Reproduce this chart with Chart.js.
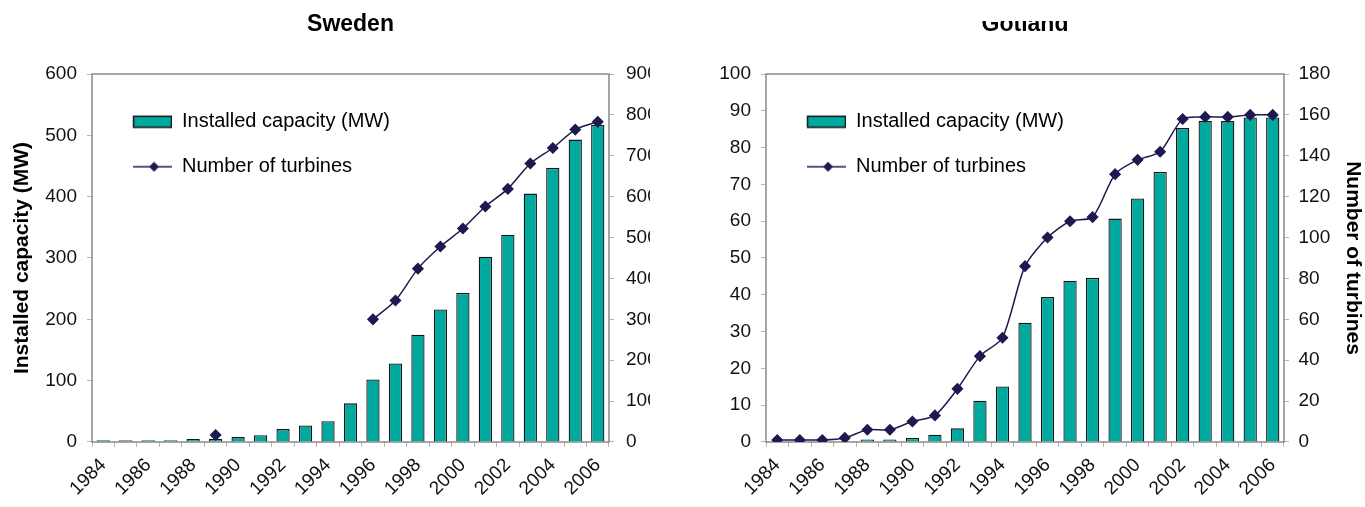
<!DOCTYPE html>
<html><head><meta charset="utf-8">
<script src="https://cdn.jsdelivr.net/npm/chart.js"></script>
<style>
html,body{margin:0;padding:0;background:#fff;}
body{width:1365px;height:507px;position:relative;overflow:hidden;}
#wrapS{position:absolute;left:0;top:0;width:650px;height:507px;overflow:hidden;}
#wrapG{position:absolute;left:700px;top:21px;width:665px;height:486px;overflow:hidden;}
#cS{position:absolute;left:0;top:0;}
#cG{position:absolute;left:0;top:-21px;}
</style></head><body>
<div id="wrapS"><canvas id="cS" width="700" height="507"></canvas></div>
<div id="wrapG"><canvas id="cG" width="665" height="507"></canvas></div>
<script>
const years = ['1984','1985','1986','1987','1988','1989','1990','1991','1992','1993','1994','1995','1996','1997','1998','1999','2000','2001','2002','2003','2004','2005','2006'];
const swedenCapacity = [3,3,3,3,5,5,8,11,21,27,34,63,102,128,175,216,243,302,338,405,447,493,517];
const swedenTurbines = [null,null,null,null,null,17,null,null,null,null,null,null,300,346,424,478,522,576,619,681,719,764,783];
const gotlandCapacity = [0,0,0,0,0.7,0.7,1.1,2.0,3.7,11.2,15.1,32.4,39.4,43.8,44.6,60.7,66.2,73.4,85.3,87.2,87.2,88.2,88.2];
const gotlandTurbines = [1,1,1,2,6,6,10,13,26,42,51,86,100,108,110,131,138,142,158,159,159,160,160];
const capLabel = 'Installed capacity (MW)';
const turbLabel = 'Number of turbines';

const TEAL = '#00A99D';
const NAVY = '#1e1a50';
const AXIS = '#8a8a8a';
const TICK = '#b5b5b5';

Chart.defaults.font.family = '"Liberation Sans", Arial, sans-serif';
Chart.defaults.color = '#000';

function barSymbol(){
  const c = document.createElement('canvas'); c.width = 55; c.height = 14;
  const x = c.getContext('2d');
  x.fillStyle = TEAL; x.fillRect(16.5,1.5,38,11);
  x.strokeStyle = '#111'; x.lineWidth = 1.5; x.strokeRect(16.5,1.5,38,11);
  return c;
}
function lineSymbol(){
  const c = document.createElement('canvas'); c.width = 55; c.height = 14;
  const x = c.getContext('2d');
  x.strokeStyle = NAVY; x.lineWidth = 1.5;
  x.beginPath(); x.moveTo(16,7); x.lineTo(55,7); x.stroke();
  x.fillStyle = NAVY; x.beginPath();
  x.moveTo(37,2); x.lineTo(42,7); x.lineTo(37,12); x.lineTo(32,7); x.closePath(); x.fill();
  return c;
}
const barImg = barSymbol();
const lineImg = lineSymbol();

const framePlugin = {
  id: 'frame',
  beforeDatasetsDraw(chart){
    const {ctx, chartArea:a} = chart;
    ctx.save(); ctx.strokeStyle = AXIS; ctx.lineWidth = 1.5;
    ctx.strokeRect(a.left, a.top, a.right - a.left, a.bottom - a.top);
    ctx.restore();
  }
};

function makeChart(canvas, cfg){
  return new Chart(canvas, {
    type: 'bar',
    data: {
      labels: years,
      datasets: [
        {type:'line', label: turbLabel, data: cfg.turbines, yAxisID:'y1',
         borderColor: NAVY, borderWidth: 1.5, pointStyle:'rectRot', pointRadius: 5,
         pointBackgroundColor: NAVY, pointBorderColor: NAVY, tension: 0.25, spanGaps:false, fill:false},
        {type:'bar', label: capLabel, data: cfg.capacity, yAxisID:'y',
         backgroundColor: TEAL, borderColor: '#151515', borderWidth: 1.3,
         barPercentage: 0.59, categoryPercentage: 1}
      ]
    },
    options: {
      responsive: false, animation: false,
      layout: {padding: cfg.padding},
      plugins: {
        tooltip: {enabled:false},
        title: {display:true, text: cfg.title, fullSize:false, color:'#000',
                font:{size:23, weight:'bold'}, padding:{top:11.2, bottom:35.2}},
        legend: {
          position: 'chartArea', align: 'start',
          title: {display:true, text:' ', font:{size:1}, padding:{top:85.5, bottom:0}},
          labels: {
            usePointStyle: true, pointStyleWidth: 55, boxHeight: 12, padding: 25,
            font: {size:20}, color:'#000',
            generateLabels(chart){
              const items = Chart.defaults.plugins.legend.labels.generateLabels(chart);
              items.forEach(it => { it.pointStyle = chart.data.datasets[it.datasetIndex].type === 'bar' ? barImg : lineImg; });
              return items.sort((a,b) => b.datasetIndex - a.datasetIndex);
            }
          }
        }
      },
      scales: {
        x: {
          offset: true,
          grid: {display:true, drawOnChartArea:false, drawTicks:true, tickLength:5, color:TICK, offset:true},
          border: {display:false},
          ticks: {autoSkip:false, minRotation:45, maxRotation:45, padding:7, font:{size:19}, color:'#111',
                  callback: (v,i) => i % 2 === 0 ? years[i] : ''}
        },
        y: {
          position:'left', min:0, max: cfg.yMax,
          ticks: {stepSize: cfg.yStep, padding:10, font:{size:19}, color:'#111'},
          grid: {drawOnChartArea:false, tickLength:5, color:TICK},
          border: {display:false},
          title: cfg.yTitle ? {display:true, text: capLabel, color:'#000', font:{size:21, weight:'bold'}, padding:{top:6.4, bottom:0.7}} : {display:false}
        },
        y1: {
          position:'right', min:0, max: cfg.y1Max,
          ticks: {stepSize: cfg.y1Step, padding: cfg.y1Pad, font:{size:19}, color:'#111'},
          grid: {drawOnChartArea:false, tickLength:5, color:TICK},
          border: {display:false},
          title: cfg.y1Title ? {display:true, text: turbLabel, color:'#000', font:{size:21, weight:'bold'}, padding:{top:0.1, bottom:0}} : {display:false}
        }
      }
    },
    plugins: [framePlugin]
  });
}

makeChart(document.getElementById('cS'), {
  title:'Sweden', capacity: swedenCapacity, turbines: swedenTurbines,
  yMax:600, yStep:100, y1Max:900, y1Step:100, yTitle:true, y1Title:false, y1Pad:12,
  padding:{left:3, right:30.3, top:0, bottom:0}
});
makeChart(document.getElementById('cG'), {
  title:'Gotland', capacity: gotlandCapacity, turbines: gotlandTurbines,
  yMax:100, yStep:10, y1Max:180, y1Step:20, yTitle:false, y1Title:true, y1Pad:9.5,
  padding:{left:9.3, right:0, top:0, bottom:0}
});
</script>
</body></html>
